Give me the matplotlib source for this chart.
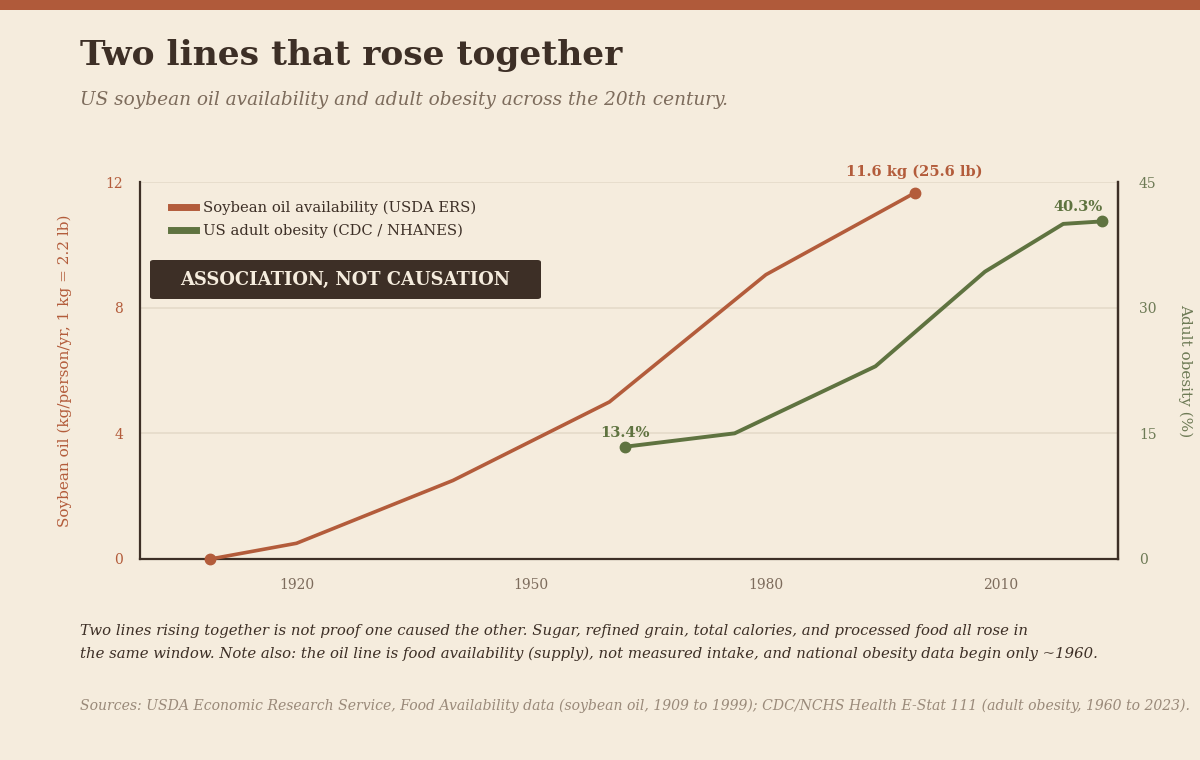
import matplotlib
matplotlib.use("Agg")
import matplotlib.pyplot as plt
from matplotlib.lines import Line2D
from matplotlib.patches import FancyBboxPatch, Rectangle

# ---- data ----
soy_years = [1909, 1920, 1940, 1960, 1980, 1999]
soy_kg = [0.0, 0.5, 2.5, 5.0, 9.05, 11.65]
obs_years = [1962, 1976, 1994, 2008, 2018, 2023]
obs_pct = [13.4, 15.0, 23.0, 34.3, 40.0, 40.3]
x_ticks = [1920, 1950, 1980, 2010]
left_ticks = [0, 4, 8, 12]
right_ticks = [0, 15, 30, 45]

BG = "#f5ecdd"
ORANGE = "#b35c3b"
GREEN = "#5f7340"
DARK = "#3d2f26"
GRID = "#e6dccb"
MUTED = "#7d6c5c"
SERIF = ["DejaVu Serif"]

plt.rcParams["font.family"] = SERIF
W, H = 1200, 760
fig = plt.figure(figsize=(W / 100, H / 100), dpi=100, facecolor=BG)

def fx(px):
    return px / W

def fy(py):
    return 1 - py / H

# top bar
fig.patches.append(Rectangle((0, fy(10)), 1, 10 / H, transform=fig.transFigure,
                             facecolor="#b05a3a", edgecolor="none", zorder=0))

fig.text(fx(80), fy(56), "Two lines that rose together", fontsize=24.8, fontweight="bold",
         color=DARK, va="center", ha="left")
fig.text(fx(80), fy(100), "US soybean oil availability and adult obesity across the 20th century.",
         fontsize=13.3, style="italic", color=MUTED, va="center", ha="left")

ax = fig.add_axes([fx(140), fy(559), fx(1118) - fx(140), (559 - 182) / H])
ax.set_facecolor(BG)
ax.set_xlim(1900, 2025)
ax.set_ylim(0, 12)
for y in left_ticks[1:]:
    ax.axhline(y, color=GRID, lw=1.3, zorder=0)
ax.plot(soy_years, soy_kg, color=ORANGE, lw=2.6, solid_capstyle="round", zorder=3, clip_on=False)
ax.plot([soy_years[0]], [soy_kg[0]], "o", color=ORANGE, ms=7.5, zorder=4, clip_on=False)
ax.plot([soy_years[-1]], [soy_kg[-1]], "o", color=ORANGE, ms=7.5, zorder=4, clip_on=False)
ax.annotate("11.6 kg (25.6 lb)", (soy_years[-1], soy_kg[-1]), xytext=(0, 10),
            textcoords="offset points", ha="center", va="bottom", fontsize=10.5,
            fontweight="bold", color=ORANGE, annotation_clip=False)

ax.set_xticks(x_ticks)
ax.set_yticks(left_ticks)
ax.tick_params(axis="x", length=0, pad=14, labelsize=10, labelcolor=MUTED)
ax.tick_params(axis="y", length=0, pad=12, labelsize=10, labelcolor=ORANGE)
for s in ["top"]:
    ax.spines[s].set_visible(False)
for s in ["left", "bottom", "right"]:
    ax.spines[s].set_color(DARK)
    ax.spines[s].set_linewidth(1.6)
ax.set_ylabel("Soybean oil (kg/person/yr, 1 kg = 2.2 lb)", color=ORANGE, fontsize=11, labelpad=24)

ax2 = ax.twinx()
ax2.set_ylim(0, 45)
ax2.set_yticks(right_ticks)
ax2.tick_params(axis="y", length=0, pad=15, labelsize=10, labelcolor="#6d7a55")
for s in ["top", "left", "bottom"]:
    ax2.spines[s].set_visible(False)
ax2.spines["right"].set_color(DARK)
ax2.spines["right"].set_linewidth(1.6)
ax2.plot(obs_years, obs_pct, color=GREEN, lw=2.8, zorder=3, clip_on=False)
ax2.plot([obs_years[0]], [obs_pct[0]], "o", color=GREEN, ms=7.5, zorder=4, clip_on=False)
ax2.plot([obs_years[-1]], [obs_pct[-1]], "o", color=GREEN, ms=7.5, zorder=4, clip_on=False)
ax2.annotate(f"{obs_pct[0]}%", (obs_years[0], obs_pct[0]), xytext=(0, 5),
             textcoords="offset points", ha="center", va="bottom", fontsize=10.5,
             fontweight="bold", color=GREEN, annotation_clip=False)
ax2.annotate(f"{obs_pct[-1]}%", (obs_years[-1], obs_pct[-1]), xytext=(0, 5),
             textcoords="offset points", ha="right", va="bottom", fontsize=10.5,
             fontweight="bold", color=GREEN, annotation_clip=False)
ax2.set_ylabel("Adult obesity (%)", color="#6d7a55", fontsize=11, rotation=270, labelpad=26)

handles = [Line2D([0], [0], color=ORANGE, lw=5),
           Line2D([0], [0], color=GREEN, lw=5)]
leg = ax.legend(handles, ["Soybean oil availability (USDA ERS)", "US adult obesity (CDC / NHANES)"],
                loc="upper left", frameon=False,
                fontsize=10.6, handlelength=1.7, handletextpad=0.5, labelspacing=0.55,
                borderaxespad=0, labelcolor=DARK)
leg.set_bbox_to_anchor((fx(165), fy(195)), transform=fig.transFigure)

# callout box
box = FancyBboxPatch((fx(150), fy(299)), fx(541) - fx(150), (299 - 260) / H,
                     boxstyle="round,pad=0,rounding_size=0.003", transform=fig.transFigure,
                     facecolor=DARK, edgecolor="none", zorder=5)
fig.patches.append(box)
fig.text(fx(345.5), fy(279.5), "ASSOCIATION, NOT CAUSATION", ha="center", va="center",
         fontsize=12.9, fontweight="bold", color="#f5ecdd", zorder=6)

fig.text(fx(80), fy(631), "Two lines rising together is not proof one caused the other. Sugar, refined grain, total calories, and processed food all rose in",
         fontsize=10.75, style="italic", color=DARK, va="center", ha="left")
fig.text(fx(80), fy(654), "the same window. Note also: the oil line is food availability (supply), not measured intake, and national obesity data begin only ~1960.",
         fontsize=10.75, style="italic", color=DARK, va="center", ha="left")
fig.text(fx(80), fy(706), "Sources: USDA Economic Research Service, Food Availability data (soybean oil, 1909 to 1999); CDC/NCHS Health E-Stat 111 (adult obesity, 1960 to 2023).",
         fontsize=10.1, style="italic", color="#9a8a7a", va="center", ha="left")

fig.savefig("out.png", dpi=100, facecolor=BG)
